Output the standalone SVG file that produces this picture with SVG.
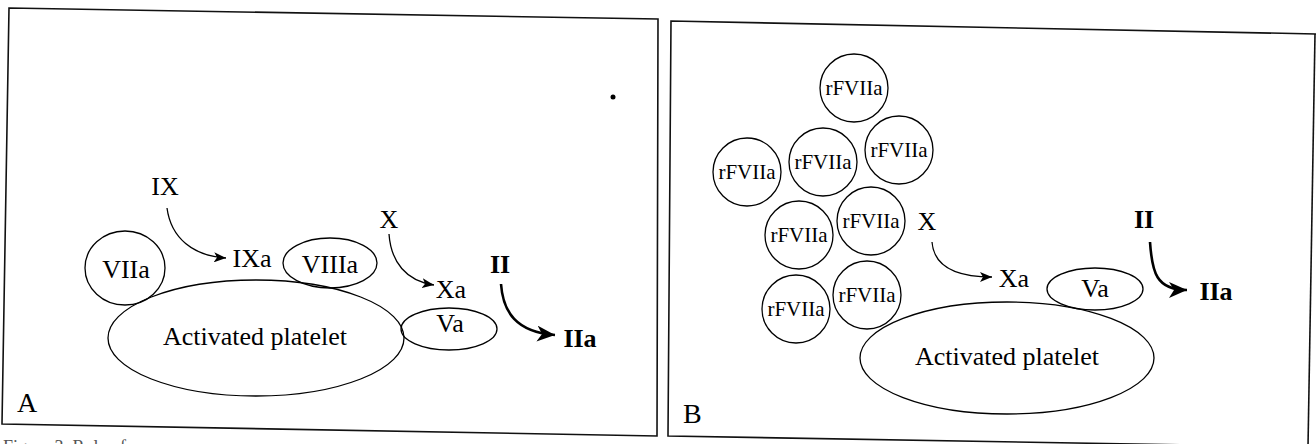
<svg xmlns="http://www.w3.org/2000/svg" width="1316" height="444" viewBox="0 0 1316 444">
<style>
text{font-family:"Liberation Serif","Times New Roman",serif;fill:#000}
.lbl{font-size:26px;text-anchor:middle}
.bold{font-weight:bold}
.small{font-size:21px;text-anchor:middle}
.panel{font-size:28px}
.shape{fill:none;stroke:#000;stroke-width:1.3}
.frame{fill:none;stroke:#111;stroke-width:1.6}
.conn{fill:none;stroke:#000;stroke-width:1.3}
.conn-bold{fill:none;stroke:#000;stroke-width:2.6}
</style>
<defs>
<marker id="ah" viewBox="0 0 12 10" refX="12" refY="5" markerWidth="12" markerHeight="10" orient="auto" markerUnits="userSpaceOnUse"><path d="M0,0 L12,5 L0,10 L3,5 z" fill="#000"/></marker>
<marker id="ahb" viewBox="0 0 18 16" refX="18" refY="8" markerWidth="18" markerHeight="16" orient="auto" markerUnits="userSpaceOnUse"><path d="M0,0 L18,8 L0,16 L5,8 z" fill="#000"/></marker>
</defs>

<g id="frames">
<path class="frame" d="M9,8 L658,19 L657,436 L2,424 Z"/>
<path class="frame" d="M1316,34 L671,21 L668,436 L1308,447"/>
<path class="frame" d="M1315,34 L1308,447"/>
</g>

<g id="panelA">
<g id="A-label"><text class="panel" x="17" y="412">A</text></g>
<circle cx="613" cy="97" r="2.5" fill="#000"/>
<g id="A-platelet"><ellipse class="shape" cx="256" cy="338" rx="148" ry="58"/><text class="lbl" x="255" y="345">Activated platelet</text></g>
<g id="A-VIIa"><ellipse class="shape" cx="125" cy="268" rx="40" ry="37"/><text class="lbl" x="126" y="278">VIIa</text></g>
<g id="A-VIIIa"><ellipse class="shape" cx="330" cy="263" rx="47" ry="25"/><text class="lbl" x="330" y="273">VIIIa</text></g>
<g id="A-Va"><ellipse class="shape" cx="449" cy="329" rx="48" ry="21"/><text class="lbl" x="450" y="332">Va</text></g>
<g id="A-IX"><text class="lbl" x="165" y="195">IX</text></g>
<g id="A-IXa"><text class="lbl" x="252" y="267">IXa</text></g>
<g id="A-X"><text class="lbl" x="389" y="228">X</text></g>
<g id="A-Xa"><text class="lbl" x="451" y="298">Xa</text></g>
<g id="A-II"><text class="lbl bold" x="500" y="273">II</text></g>
<g id="A-IIa"><text class="lbl bold" x="580" y="347">IIa</text></g>
</g>

<g id="panelB">
<g id="B-label"><text class="panel" x="683" y="423">B</text></g>
<g id="B-platelet"><ellipse class="shape" cx="1007" cy="358" rx="147" ry="56"/><text class="lbl" x="1007" y="365">Activated platelet</text></g>
<g id="B-r1"><circle class="shape" cx="854" cy="88" r="34"/><text class="small" x="854" y="95">rFVIIa</text></g>
<g id="B-r2"><circle class="shape" cx="747" cy="172" r="34"/><text class="small" x="747" y="179">rFVIIa</text></g>
<g id="B-r3"><circle class="shape" cx="823" cy="162" r="34"/><text class="small" x="823" y="169">rFVIIa</text></g>
<g id="B-r4"><circle class="shape" cx="899" cy="150" r="34"/><text class="small" x="899" y="157">rFVIIa</text></g>
<g id="B-r5"><circle class="shape" cx="799" cy="235" r="34"/><text class="small" x="799" y="242">rFVIIa</text></g>
<g id="B-r6"><circle class="shape" cx="871" cy="221" r="34"/><text class="small" x="871" y="228">rFVIIa</text></g>
<g id="B-r7"><circle class="shape" cx="796" cy="309" r="34"/><text class="small" x="796" y="316">rFVIIa</text></g>
<g id="B-r8"><circle class="shape" cx="867" cy="295" r="34"/><text class="small" x="867" y="302">rFVIIa</text></g>
<g id="B-Va"><ellipse class="shape" cx="1095" cy="289" rx="48" ry="21"/><text class="lbl" x="1095" y="297">Va</text></g>
<g id="B-X"><text class="lbl" x="927" y="230">X</text></g>
<g id="B-Xa"><text class="lbl" x="1014" y="287">Xa</text></g>
<g id="B-II"><text class="lbl bold" x="1144" y="228">II</text></g>
<g id="B-IIa"><text class="lbl bold" x="1216" y="300">IIa</text></g>
</g>

<g id="connectors">
<path class="conn" d="M167,208 C171,238 193,256 226,258" marker-end="url(#ah)"/>
<path class="conn" d="M389,234 C391,262 406,281 434,285" marker-end="url(#ah)"/>
<path class="conn-bold" d="M501,284 C503,312 516,332 555,335" marker-end="url(#ahb)"/>
<path class="conn" d="M932,242 C934,268 958,277 992,277" marker-end="url(#ah)"/>
<path class="conn-bold" d="M1150,242 C1152,272 1156,290 1187,290" marker-end="url(#ahb)"/>
</g>

<text x="3" y="453" font-size="18" style="fill:#555">Figure 3.   Role of</text>
</svg>
